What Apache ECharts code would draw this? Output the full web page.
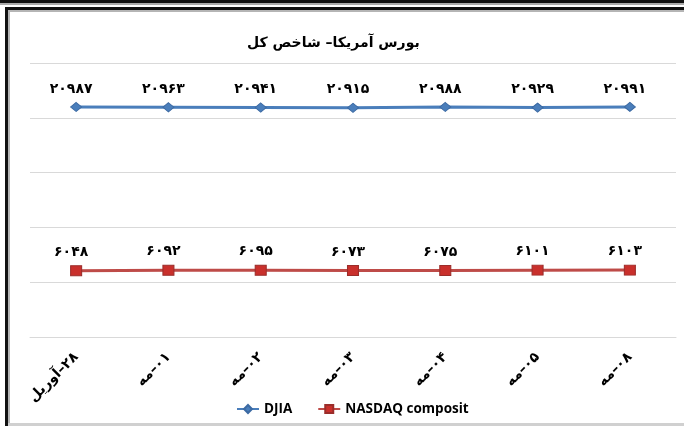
<!DOCTYPE html>
<html>
<head>
<meta charset="utf-8">
<script src="https://cdn.jsdelivr.net/npm/echarts@6/dist/echarts.min.js"></script>
<style>
html,body{margin:0;padding:0;background:#fff;}
#chart{width:684px;height:426px;direction:rtl;}
</style>
</head>
<body>
<div id="chart" dir="rtl"></div>
<script>
var dash = '–';
var categories = [
  '۲۸' + dash + 'آوریل',
  '۰۱' + dash + 'مه',
  '۰۲' + dash + 'مه',
  '۰۳' + dash + 'مه',
  '۰۴' + dash + 'مه',
  '۰۵' + dash + 'مه',
  '۰۸' + dash + 'مه'
];
var djia = [20987, 20963, 20941, 20915, 20988, 20929, 20991];
var nasdaq = [6048, 6092, 6095, 6073, 6075, 6101, 6103];
var seriesNames = ['DJIA', 'NASDAQ composit'];
var titleText = 'بورس آمریکا– شاخص کل';

function fa(v) {
  return String(v).replace(/\d/g, function (d) { return '۰۱۲۳۴۵۶۷۸۹'[d]; });
}

var chart = echarts.init(document.getElementById('chart'));
var labelStyle = {
  show: true,
  position: 'top',
  distance: 6,
  offset: [-5, 0],
  fontFamily: 'DejaVu Sans',
  fontWeight: 'bold',
  fontSize: 14,
  color: '#000',
  formatter: function (p) { return fa(p.value); }
};
chart.setOption({
  animation: false,
  title: {
    text: titleText,
    left: 247,
    top: 36,
    padding: 0,
    textStyle: { fontFamily: 'DejaVu Sans', fontWeight: 'bold', fontSize: 14, color: '#000' }
  },
  legend: {
    data: seriesNames,
    left: 236,
    top: 402,
    padding: 0,
    itemWidth: 22,
    itemHeight: 10,
    itemGap: 25,
    textStyle: { fontFamily: 'Open Sans', fontWeight: 'bold', fontSize: 13.5, color: '#000' }
  },
  grid: { left: 30, right: 8, top: 63, bottom: 89, containLabel: false },
  xAxis: {
    type: 'category',
    data: categories,
    boundaryGap: true,
    axisLine: { lineStyle: { color: '#D9D9D9', width: 1 } },
    axisTick: { show: false },
    axisLabel: {
      rotate: 45,
      margin: 18,
      interval: 0,
      fontFamily: 'DejaVu Sans',
      fontWeight: 'bold',
      fontSize: 14,
      color: '#000'
    }
  },
  yAxis: {
    type: 'value',
    min: 0,
    max: 25000,
    interval: 5000,
    axisLabel: { show: false },
    axisLine: { show: false },
    axisTick: { show: false },
    splitLine: { lineStyle: { color: '#D9D9D9', width: 1 } }
  },
  series: [
    {
      name: seriesNames[0],
      type: 'line',
      data: djia,
      symbol: 'diamond',
      symbolSize: [11, 9],
      lineStyle: { color: '#4A7EBB', width: 3 },
      itemStyle: { color: '#4A7EBB', borderColor: '#3C6AA3', borderWidth: 1 },
      label: labelStyle
    },
    {
      name: seriesNames[1],
      type: 'line',
      data: nasdaq,
      symbol: 'rect',
      symbolSize: [11, 10],
      lineStyle: { color: '#BE4B48', width: 3 },
      itemStyle: { color: '#C9302C', borderColor: '#9B2D2A', borderWidth: 1 },
      label: labelStyle
    }
  ],
  graphic: [
    { type: 'rect', shape: { x: 0, y: 0, width: 684, height: 3 }, style: { fill: '#111' }, silent: true },
    { type: 'rect', shape: { x: 0, y: 3, width: 684, height: 2 }, style: { fill: '#aaa' }, silent: true },
    { type: 'rect', shape: { x: 5, y: 7, width: 679, height: 3 }, style: { fill: '#111' }, silent: true },
    { type: 'rect', shape: { x: 5, y: 7, width: 3, height: 419 }, style: { fill: '#111' }, silent: true },
    { type: 'rect', shape: { x: 8, y: 10, width: 676, height: 2 }, style: { fill: '#b5b5b5' }, silent: true },
    { type: 'rect', shape: { x: 8, y: 10, width: 2, height: 416 }, style: { fill: '#b5b5b5' }, silent: true },
    { type: 'rect', shape: { x: 8, y: 423, width: 676, height: 3 }, style: { fill: '#d0d0d0' }, silent: true }
  ]
});
</script>
</body>
</html>
